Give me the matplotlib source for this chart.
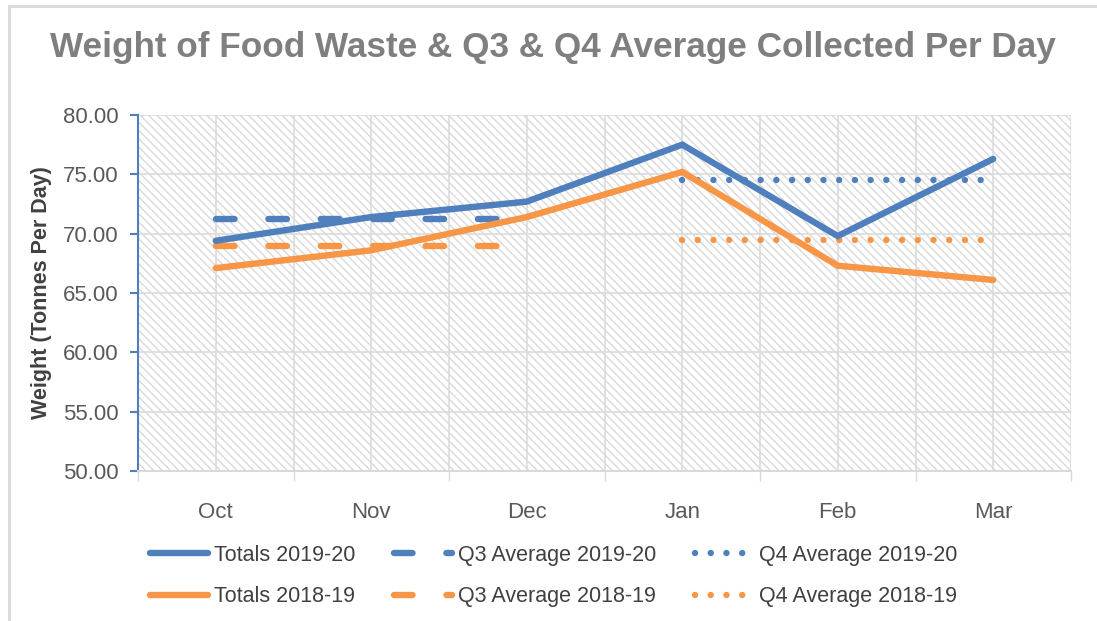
import matplotlib
matplotlib.use("Agg")
import matplotlib.pyplot as plt
from matplotlib.patches import Rectangle
import numpy as np

# -- Data --
months = ["Oct", "Nov", "Dec", "Jan", "Feb", "Mar"]
totals_1920 = [69.4, 71.4, 72.7, 77.5, 69.8, 76.3]
totals_1819 = [67.1, 68.6, 71.4, 75.2, 67.3, 66.1]
q3_avg_1920 = 71.2
q3_avg_1819 = 69.0
q4_avg_1920 = 74.5
q4_avg_1819 = 69.5
q3_months = ["Oct", "Nov", "Dec"]
q4_months = ["Jan", "Feb", "Mar"]

BLUE = "#4f7fbd"
ORANGE = "#f79646"
FONT = ["Liberation Sans", "DejaVu Sans"]
W, H = 1097, 621

plt.rcParams["font.family"] = FONT
plt.rcParams["hatch.linewidth"] = 1.0
plt.rcParams["hatch.color"] = "#d9d9d9"

fig = plt.figure(figsize=(W / 100, H / 100), dpi=100)
ax = fig.add_axes([138 / W, 1 - 471 / H, (1071 - 138) / W, (471 - 115) / H])

# hatched plot background
ax.patch.set_facecolor("white")
ax.add_patch(Rectangle((0, 0), 1, 1, transform=ax.transAxes, facecolor="white",
                       edgecolor="#d9d9d9", hatch="\\" * 4, linewidth=0, zorder=0))

x = np.arange(len(months))
idx = {m: i for i, m in enumerate(months)}
q3_x = [idx[m] for m in q3_months]
q4_x = [idx[m] for m in q4_months]

lw = 4.6
h_t19, = ax.plot(x, totals_1920, color=BLUE, lw=lw, solid_capstyle="round",
                 solid_joinstyle="miter", zorder=4, label="Totals 2019-20")
h_t18, = ax.plot(x, totals_1819, color=ORANGE, lw=lw, solid_capstyle="round",
                 solid_joinstyle="miter", zorder=4, label="Totals 2018-19")

dash = (2.9, 5.3)
dot = (0.01, 2.45)
h_q3_19, = ax.plot(q3_x, [q3_avg_1920] * len(q3_x), color=BLUE, lw=lw, dashes=dash,
                   dash_capstyle="round", zorder=3, label="Q3 Average 2019-20")
h_q3_18, = ax.plot(q3_x, [q3_avg_1819] * len(q3_x), color=ORANGE, lw=lw, dashes=dash,
                   dash_capstyle="round", zorder=3, label="Q3 Average 2018-19")
h_q4_19, = ax.plot(q4_x, [q4_avg_1920] * len(q4_x), color=BLUE, lw=lw, dashes=dot,
                   dash_capstyle="round", zorder=3, label="Q4 Average 2019-20")
h_q4_18, = ax.plot(q4_x, [q4_avg_1819] * len(q4_x), color=ORANGE, lw=lw, dashes=dot,
                   dash_capstyle="round", zorder=3, label="Q4 Average 2018-19")

# -- Axes --
ax.set_xlim(-0.5, len(months) - 0.5)
ax.set_ylim(50, 80)
ax.set_yticks(np.arange(50, 81, 5))
ax.set_yticklabels([f"{v:.2f}" for v in np.arange(50, 81, 5)])
ax.set_xticks(x)
ax.set_xticklabels(months)
ax.set_xticks(np.arange(-0.5, len(months), 1), minor=True)

ax.tick_params(axis="y", direction="out", length=6, width=1.5, color=BLUE,
               labelsize=16, labelcolor="#595959", pad=8)
ax.tick_params(axis="x", which="major", length=0, labelsize=16, labelcolor="#595959", pad=22)
ax.tick_params(axis="x", which="minor", direction="out", length=7, width=1, color="#d9d9d9")

ax.grid(True, which="both", axis="x", color="#dcdcdc", lw=1.2, zorder=1)
ax.grid(True, which="major", axis="y", color="#dcdcdc", lw=1.2, zorder=1)
ax.set_axisbelow(True)

for s in ["top", "right"]:
    ax.spines[s].set_visible(False)
ax.spines["left"].set_color(BLUE)
ax.spines["left"].set_linewidth(1.5)
ax.spines["bottom"].set_color("#d9d9d9")
ax.spines["bottom"].set_linewidth(1.5)

ax.set_ylabel("Weight (Tonnes Per Day)", fontsize=15.5, fontweight="bold", color="#404040", labelpad=8)

fig.text(553 / W, 1 - 47 / H, "Weight of Food Waste & Q3 & Q4 Average Collected Per Day",
         ha="center", va="center", fontsize=25.3, fontweight="bold", color="#7f7f7f")

# legend: three columns placed separately
cols = [([h_t19, h_t18], 150), ([h_q3_19, h_q3_18], 394), ([h_q4_19, h_q4_18], 695)]
for handles, xpx in cols:
    fig.legend(handles=handles, loc="upper left", bbox_to_anchor=(xpx / W, 1 - 545 / H),
               frameon=False, fontsize=15.5, labelcolor="#404040", handlelength=2.7,
               handletextpad=0.25, labelspacing=0.95, borderaxespad=0, borderpad=0)

# outer chart border
fig.patches.append(Rectangle((9 / W, -0.1), 1.2, 1.1 - 6 / H, transform=fig.transFigure,
                             facecolor="none", edgecolor="#d9d9d9", lw=2))

fig.savefig("out.png", dpi=100)
